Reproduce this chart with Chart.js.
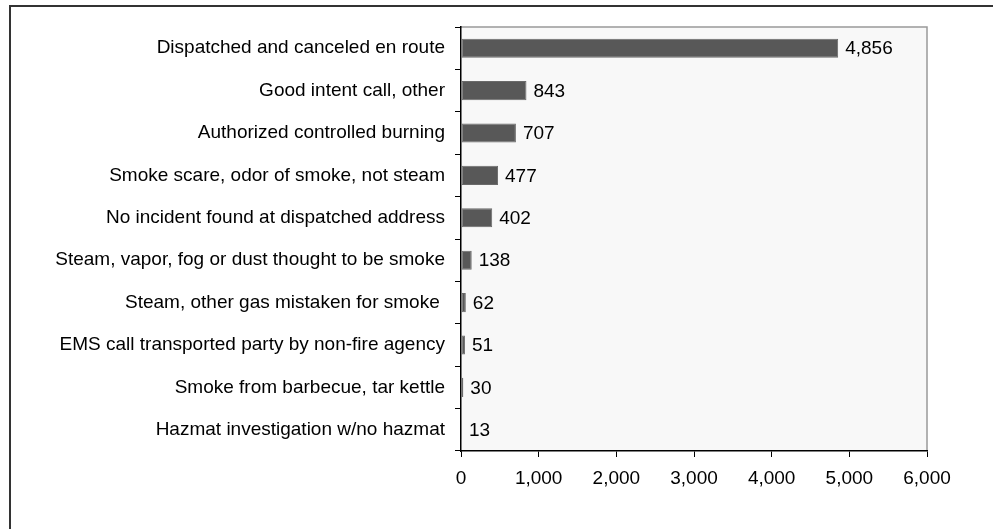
<!DOCTYPE html>
<html>
<head>
<meta charset="utf-8">
<script src="https://cdn.jsdelivr.net/npm/chart.js@4.4.0/dist/chart.umd.min.js"></script>
<style>
  html, body { margin: 0; padding: 0; background: #ffffff; overflow: hidden; }
  #wrap { position: relative; width: 993px; height: 529px; }
  #frame { position: absolute; left: 9px; top: 5px; width: 1200px; height: 800px;
           border-left: 2px solid #333333; border-top: 2px solid #333333; }
  canvas { position: absolute; left: 0; top: 0; }
</style>
</head>
<body>
<div id="wrap">
  <div id="frame"></div>
  <canvas id="barChart" width="993" height="529"></canvas>
</div>
<script>
// Categorías y valores
const categories = [
    'Dispatched and canceled en route',
    'Good intent call, other',
    'Authorized controlled burning',
    'Smoke scare, odor of smoke, not steam',
    'No incident found at dispatched address',
    'Steam, vapor, fog or dust thought to be smoke',
    'Steam, other gas mistaken for smoke ',
    'EMS call transported party by non-fire agency',
    'Smoke from barbecue, tar kettle',
    'Hazmat investigation w/no hazmat'
];
const counts = [4856, 843, 707, 477, 402, 138, 62, 51, 30, 13];
const xTicks = [0, 1000, 2000, 3000, 4000, 5000, 6000];

const fontFamily = '"Liberation Sans", Arial, Helvetica, sans-serif';

// Fondo del área de trazado
const plotBackground = {
    id: 'plotBackground',
    beforeDraw(chart) {
        const { ctx, chartArea: a } = chart;
        ctx.save();
        ctx.fillStyle = '#f8f8f8';
        ctx.fillRect(a.left, a.top, a.right - a.left, a.bottom - a.top);
        ctx.strokeStyle = '#999999';
        ctx.lineWidth = 1.5;
        ctx.beginPath();
        ctx.moveTo(a.left, a.top);
        ctx.lineTo(a.right, a.top);
        ctx.lineTo(a.right, a.bottom);
        ctx.stroke();
        ctx.restore();
    }
};

// Etiquetas de valor al final de cada barra
const valueLabels = {
    id: 'valueLabels',
    afterDatasetsDraw(chart) {
        const { ctx } = chart;
        const meta = chart.getDatasetMeta(0);
        ctx.save();
        ctx.fillStyle = '#000000';
        ctx.font = '19px ' + fontFamily;
        ctx.textAlign = 'left';
        ctx.textBaseline = 'middle';
        meta.data.forEach((bar, i) => {
            ctx.fillText(counts[i].toLocaleString('en-US'), bar.x + 7, bar.y + 1);
        });
        ctx.restore();
    }
};

const ctx = document.getElementById('barChart').getContext('2d');
new Chart(ctx, {
    type: 'bar',
    data: {
        labels: categories,
        datasets: [{
            data: counts,
            backgroundColor: '#585858',
            borderColor: '#6a6a6a',
            borderWidth: 1,
            borderSkipped: false,
            categoryPercentage: 1,
            barPercentage: 0.45
        }]
    },
    options: {
        indexAxis: 'y',
        responsive: false,
        animation: false,
        layout: { padding: { top: 27, right: 66, bottom: 0, left: 0 } },
        plugins: {
            legend: { display: false },
            tooltip: { enabled: false }
        },
        scales: {
            x: {
                min: 0,
                max: 6000,
                afterBuildTicks(scale) {
                    scale.ticks = xTicks.map(v => ({ value: v }));
                },
                afterFit(scale) { scale.height = 78; },
                grid: {
                    drawOnChartArea: false,
                    drawTicks: true,
                    tickLength: 6,
                    color: '#000000'
                },
                border: { display: true, color: '#000000', width: 1.5 },
                ticks: {
                    color: '#000000',
                    padding: 10,
                    maxRotation: 0,
                    font: { size: 19, family: fontFamily },
                    callback: v => Number(v).toLocaleString('en-US')
                }
            },
            y: {
                offset: true,
                afterFit(scale) { scale.width = 461; },
                grid: {
                    offset: true,
                    drawOnChartArea: false,
                    drawTicks: true,
                    tickLength: 6,
                    color: '#000000'
                },
                border: { display: true, color: '#000000', width: 1.5 },
                ticks: {
                    color: '#000000',
                    padding: 10,
                    autoSkip: false,
                    font: { size: 19, family: fontFamily }
                }
            }
        }
    },
    plugins: [plotBackground, valueLabels]
});
</script>
</body>
</html>
